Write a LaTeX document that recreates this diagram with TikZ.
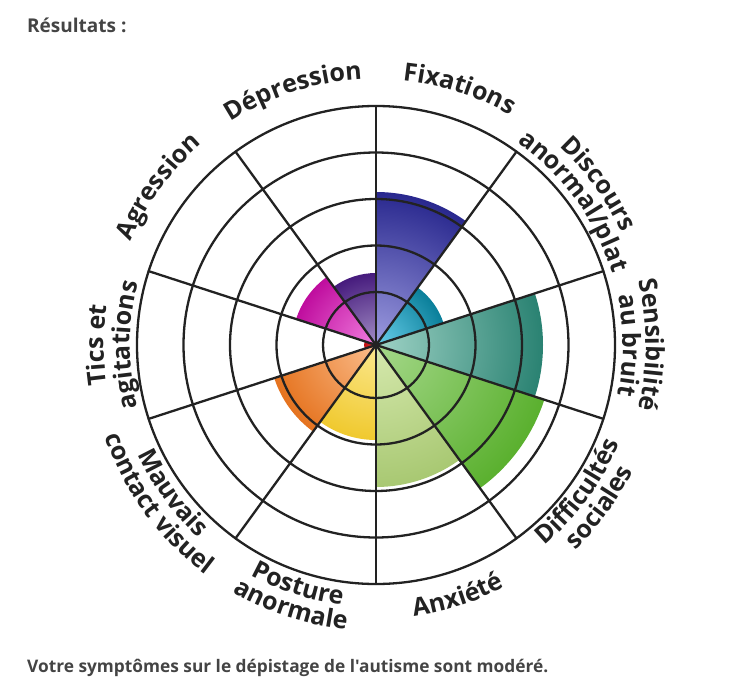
\documentclass[tikz,border=0pt]{standalone}
\usepackage{fontspec}
\setmainfont{Open Sans}[Ligatures=TeXOff]
\usetikzlibrary{decorations.text}
\definecolor{trait}{HTML}{222222}
\definecolor{gristexte}{HTML}{444444}
\definecolor{fixa}{HTML}{9D9CE0}\definecolor{fixb}{HTML}{29288E}
\definecolor{disa}{HTML}{6AD0EC}\definecolor{disb}{HTML}{0A7F9A}
\definecolor{sena}{HTML}{9FD3C6}\definecolor{senb}{HTML}{2A8272}
\definecolor{difa}{HTML}{A5D88A}\definecolor{difb}{HTML}{5AB02E}
\definecolor{anxa}{HTML}{D6E9AE}\definecolor{anxb}{HTML}{A8C872}
\definecolor{posa}{HTML}{FBE88E}\definecolor{posb}{HTML}{F0C92E}
\definecolor{maua}{HTML}{FBBD8C}\definecolor{maub}{HTML}{E5731F}
\definecolor{tica}{HTML}{E04040}\definecolor{ticb}{HTML}{C01010}
\definecolor{agra}{HTML}{F27FE0}\definecolor{agrb}{HTML}{BF0D9E}
\definecolor{depa}{HTML}{A48FC6}\definecolor{depb}{HTML}{461B7D}
\newcommand{\etiq}{\fontsize{25}{25}\selectfont\bfseries\color{trait}}
% secteur : angle de depart, angle d'arrivee, rayon, couleur
\newcommand{\secteur}[4]{%
  \begin{scope}
    \clip (0,0) -- (#1:#3) arc[start angle=#1, end angle=#2, radius=#3] -- cycle;
    \shade[inner color=#4a, outer color=#4b] (0,0) circle[radius=#3];
  \end{scope}}
% etiquettes : angle, rayon, texte
\newcommand{\etiqhaut}[3]{\path[decorate, decoration={text along path, text align=center, text={|\etiq|#3}}]
  (#1+45:#2) arc[start angle=#1+45, end angle=#1-45, radius=#2];}
\newcommand{\etiqbas}[3]{\path[decorate, decoration={text along path, text align=center, text={|\etiq|#3}}]
  (#1-45:#2) arc[start angle=#1-45, end angle=#1+45, radius=#2];}
\begin{document}
\begin{tikzpicture}[x=1pt, y=1pt, line join=round, line cap=round,
    grille/.style={draw=trait, line width=2.3pt},
    texte/.style={font=\bfseries, text=gristexte, inner sep=0pt}]
  \useasboundingbox (-376,-343) rectangle (359,345);
  \def\R{239}
  % valeurs
  \secteur{54}{90}{153}{fix}
  \secteur{18}{54}{71}{dis}
  \secteur{-18}{18}{167}{sen}
  \secteur{-54}{-18}{177}{dif}
  \secteur{-90}{-54}{142}{anx}
  \secteur{-126}{-90}{95}{pos}
  \secteur{-162}{-126}{107}{mau}
  \secteur{162}{198}{12}{tic}
  \secteur{126}{162}{84}{agr}
  \secteur{90}{126}{72}{dep}
  % grille
  \foreach \r in {53,99.5,146,192.5,\R}
    \draw[grille] (0,0) circle[radius=\r];
  \foreach \a in {18,54,...,342}
    \draw[grille] (0,0) -- (\a:\R);
  % etiquettes
  \etiqhaut{72}{266}{Fixations}
  \etiqhaut{36}{270}{Discours}
  \etiqhaut{36}{247}{anormal/plat}
  \etiqhaut{0}{270}{Sensibilité}
  \etiqhaut{0}{247}{au bruit}
  \etiqbas{-36}{262}{Difficultés}
  \etiqbas{-36}{286}{sociales}
  \etiqbas{-72}{274}{Anxiété}
  \etiqbas{-108}{262}{Posture}
  \etiqbas{-108}{286}{anormale}
  \etiqbas{-144}{262}{Mauvais}
  \etiqbas{-144}{286}{contact visuel}
  \etiqhaut{180}{272}{Tics et}
  \etiqhaut{180}{246}{agitations}
  \etiqhaut{144}{266}{Agression}
  \etiqhaut{108}{266}{Dépression}
  % textes
  \node[texte, font=\fontsize{19}{19}\selectfont\bfseries, anchor=base west] (titre) at (-349,312) {Résultats :};
  \node[texte, font=\fontsize{17.3}{17.3}\selectfont\bfseries, anchor=base west] (bilan) at (-349,-327) {Votre symptômes sur le dépistage de l'autisme sont modéré.};
\end{tikzpicture}
\end{document}
